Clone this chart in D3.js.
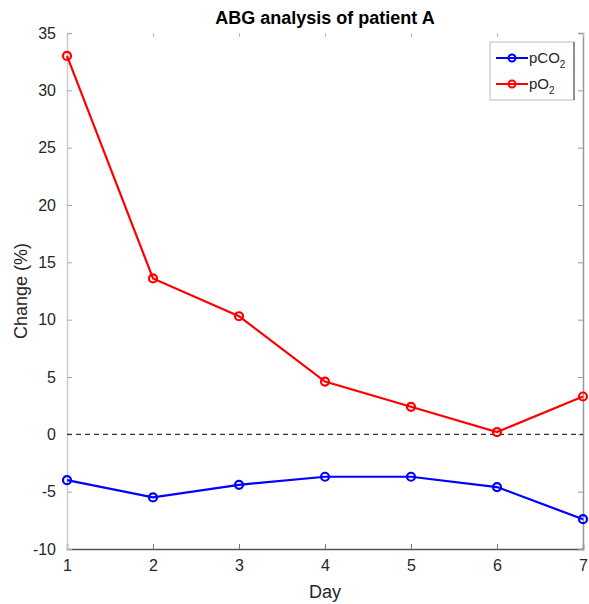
<!DOCTYPE html>
<html lang="en">
<head>
  <meta charset="UTF-8" />
  <title>ABG analysis of patient A</title>
  <style>
    body { margin: 0; background: #fff; }
    text { font-family: "Liberation Sans", Arial, sans-serif; }
  </style>
</head>
<body>
  <div id="chart"></div>
  <script src="https://d3js.org/d3.v7.min.js"></script>
  <script>
    // data
    const days = [1, 2, 3, 4, 5, 6, 7]
    const pCO2 = [-4.0, -5.5, -4.4, -3.7, -3.7, -4.6, -7.4]
    const pO2 = [33.0, 13.6, 10.3, 4.6, 2.4, 0.2, 3.3]
    const yTicks = [-10, -5, 0, 5, 10, 15, 20, 25, 30, 35]

    const W = 589, H = 604
    const mLeft = 67, mRight = 583, mTop = 33, mBottom = 549

    const svg = d3.select("#chart").append("svg")
      .attr("width", W)
      .attr("height", H)

    const x = d3.scaleLinear().domain([1, 7]).range([mLeft, mRight])
    const y = d3.scaleLinear().domain([-10, 35]).range([mBottom, mTop])

    // plain hyphen minus like the original
    const fmt = function (d) { return String(d) }

    // axes
    const xAxis = svg.append("g")
      .attr("transform", "translate(0," + mBottom + ")")
      .call(d3.axisBottom(x).tickValues(days).tickSize(-5).tickPadding(11).tickFormat(fmt))
    xAxis.select(".domain").attr("stroke", "#555").attr("stroke-width", 1.5)
    xAxis.selectAll(".tick line").attr("stroke", "#777")
    xAxis.selectAll("text").attr("font-size", 16).attr("fill", "#262626")

    const yAxis = svg.append("g")
      .attr("transform", "translate(" + mLeft + ",0)")
      .call(d3.axisLeft(y).tickValues(yTicks).tickSize(-5).tickPadding(11).tickFormat(fmt))
    yAxis.select(".domain").attr("stroke", "#ccc").attr("stroke-width", 1.5)
    yAxis.selectAll(".tick line").attr("stroke", "#aaa")
    yAxis.selectAll("text").attr("font-size", 16).attr("fill", "#262626")

    // right side and top ticks only
    const yRight = svg.append("g")
      .attr("transform", "translate(" + mRight + ",0)")
      .call(d3.axisRight(y).tickValues(yTicks).tickSize(-5).tickFormat(""))
    yRight.select(".domain").attr("stroke", "#999").attr("stroke-width", 1.5)
    yRight.selectAll(".tick line").attr("stroke", "#999")

    const xTop = svg.append("g")
      .attr("transform", "translate(0," + mTop + ")")
      .call(d3.axisTop(x).tickValues(days).tickSize(-4).tickFormat(""))
    xTop.select(".domain").attr("stroke", "none")
    xTop.selectAll(".tick line").attr("stroke", "#bbb")

    // zero line
    svg.append("line")
      .attr("x1", mLeft).attr("x2", mRight)
      .attr("y1", y(0)).attr("y2", y(0))
      .attr("stroke", "#333")
      .attr("stroke-width", 1.3)
      .attr("stroke-dasharray", "5,4")

    const line = d3.line()
      .x(function (d, i) { return x(days[i]) })
      .y(function (d) { return y(d) })

    const series = [
      { name: "pCO2", values: pCO2, color: "#0000ff" },
      { name: "pO2", values: pO2, color: "#ff0000" }
    ]

    series.forEach(function (s) {
      svg.append("path")
        .datum(s.values)
        .attr("d", line)
        .attr("fill", "none")
        .attr("stroke", s.color)
        .attr("stroke-width", 2.2)
      svg.selectAll(null)
        .data(s.values)
        .enter().append("circle")
        .attr("cx", function (d, i) { return x(days[i]) })
        .attr("cy", function (d) { return y(d) })
        .attr("r", 4)
        .attr("fill", "none")
        .attr("stroke", s.color)
        .attr("stroke-width", 2.2)
    })

    // title and labels
    svg.append("text")
      .attr("x", (mLeft + mRight) / 2)
      .attr("y", 24)
      .attr("text-anchor", "middle")
      .attr("font-size", 18)
      .attr("font-weight", "bold")
      .text("ABG analysis of patient A")

    svg.append("text")
      .attr("x", (mLeft + mRight) / 2)
      .attr("y", 598)
      .attr("text-anchor", "middle")
      .attr("font-size", 18)
      .attr("fill", "#262626")
      .text("Day")

    svg.append("text")
      .attr("transform", "translate(27," + ((mTop + mBottom) / 2) + ") rotate(-90)")
      .attr("text-anchor", "middle")
      .attr("font-size", 18)
      .attr("fill", "#262626")
      .text("Change (%)")

    // legend
    const lg = svg.append("g").attr("transform", "translate(490,42)")
    lg.append("rect")
      .attr("width", 84).attr("height", 58)
      .attr("fill", "#fff")
      .attr("stroke", "#bbb")
    lg.append("line").attr("x1", 84).attr("x2", 84).attr("y1", 0).attr("y2", 58)
      .attr("stroke", "#444")
    series.forEach(function (s, i) {
      const ly = 16 + i * 26
      lg.append("line")
        .attr("x1", 6).attr("x2", 38)
        .attr("y1", ly).attr("y2", ly)
        .attr("stroke", s.color).attr("stroke-width", 2)
      lg.append("circle")
        .attr("cx", 22).attr("cy", ly).attr("r", 3.5)
        .attr("fill", "none").attr("stroke", s.color).attr("stroke-width", 2)
      const t = lg.append("text")
        .attr("x", 39).attr("y", ly + 5)
        .attr("font-size", 15)
        .attr("fill", "#262626")
      t.append("tspan").text(s.name.slice(0, -1))
      t.append("tspan").attr("dy", 5).attr("font-size", 10).text(s.name.slice(-1))
    })
  </script>
</body>
</html>
